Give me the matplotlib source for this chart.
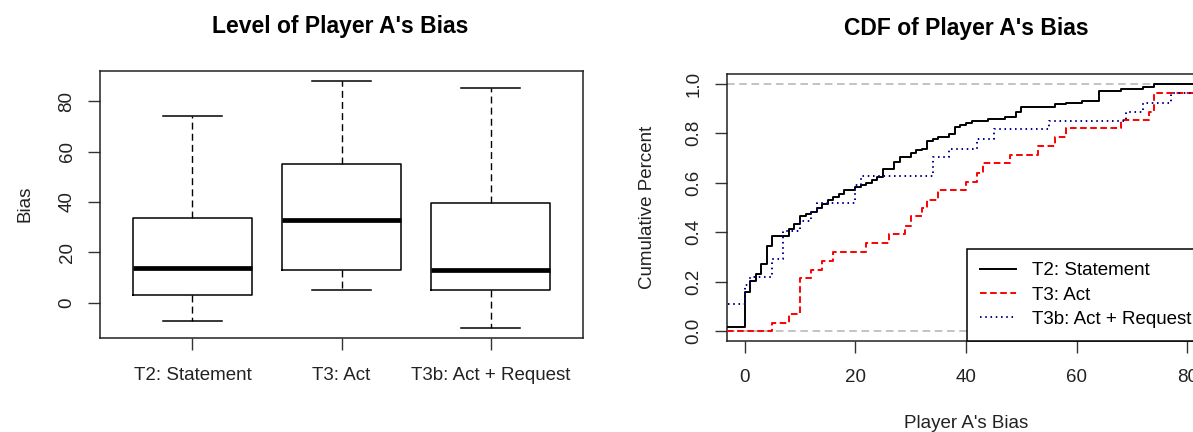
import numpy as np
import matplotlib
matplotlib.use('Agg')
import matplotlib.pyplot as plt

plt.rcParams['font.family'] = ['Liberation Sans', 'DejaVu Sans']

# ---------------- data ----------------
treatments = ['T2: Statement', 'T3: Act', 'T3b: Act + Request']
box_whislo = [-7, 5, -10]
box_q1 = [3, 13, 5]
box_med = [14, 33, 13]
box_q3 = [33.5, 55, 39.5]
box_whishi = [74, 88, 85]

t2_x = [-7, 0, 1, 2, 3, 4, 5, 8, 9, 10, 11, 12, 13, 14, 15, 16, 17, 18, 20, 21,
        22, 23, 24, 25, 27, 28, 30, 31, 32, 33, 34, 35, 37, 38, 39, 40, 41, 44,
        47, 49, 50, 56, 58, 61, 64, 68, 72, 74]
t2_cdf = [0.016, 0.158, 0.203, 0.231, 0.270, 0.343, 0.386, 0.415, 0.435, 0.465,
          0.472, 0.480, 0.499, 0.516, 0.530, 0.541, 0.553, 0.570, 0.581, 0.591,
          0.600, 0.611, 0.624, 0.654, 0.683, 0.703, 0.719, 0.732, 0.738, 0.769,
          0.778, 0.786, 0.797, 0.827, 0.834, 0.841, 0.850, 0.858, 0.868, 0.888,
          0.908, 0.918, 0.924, 0.932, 0.972, 0.980, 0.989, 1.0]

t3_x = [5, 8, 10, 12, 14, 16, 22, 26, 29, 30, 32, 33, 35, 40, 42, 43, 48, 53,
        56, 58, 68, 73, 74, 88]
t3_cdf = [0.034, 0.068, 0.215, 0.249, 0.282, 0.318, 0.357, 0.392, 0.427, 0.464,
          0.499, 0.532, 0.572, 0.604, 0.640, 0.678, 0.712, 0.747, 0.786, 0.820,
          0.854, 0.888, 0.962, 1.0]

t3b_x = [-10, 0, 1, 5, 7, 10, 12, 13, 20, 21, 34, 37, 42, 45, 55, 69, 72, 77, 85]
t3b_cdf = [0.108, 0.185, 0.219, 0.293, 0.405, 0.446, 0.482, 0.519, 0.591, 0.627,
           0.703, 0.738, 0.776, 0.816, 0.851, 0.888, 0.924, 0.962, 1.0]

cdf_xticks = [0, 20, 40, 60, 80]
cdf_yticks = [0.0, 0.2, 0.4, 0.6, 0.8, 1.0]
box_yticks = [0, 20, 40, 60, 80]

# ---------------- figure ----------------
W, H = 1193, 432
fig = plt.figure(figsize=(W / 100, H / 100), dpi=100)
fig.patch.set_facecolor('white')

FS = 13.5
TFS = 16.5


def px_axes(left, top, right, bottom):
    return [left / W, 1 - bottom / H, (right - left) / W, (bottom - top) / H]


# ---------- left: box plot ----------
ax1 = fig.add_axes(px_axes(100, 71, 583, 338))
stats = []
for i in range(3):
    stats.append(dict(whislo=box_whislo[i], q1=box_q1[i], med=box_med[i],
                      q3=box_q3[i], whishi=box_whishi[i], fliers=[]))
positions = [1, 2, 3]
ax1.bxp(stats, positions=positions, widths=0.8, showfliers=False,
        boxprops=dict(color='black', linewidth=1.1),
        medianprops=dict(color='black', linewidth=3.4, solid_capstyle='butt'),
        whiskerprops=dict(color='black', linewidth=1.0, linestyle=(0, (5, 3))),
        capprops=dict(color='black', linewidth=1.1),
        capwidths=0.4)
xa, xb = positions[0] - 0.5, positions[-1] + 0.5
xe = 0.04 * (xb - xa)
ax1.set_xlim(xa - xe, xb + xe)
ymin = min(box_whislo); ymax = max(box_whishi)
ext = 0.04 * (ymax - ymin)
ax1.set_ylim(ymin - ext, ymax + ext)
ax1.set_xticks(positions)
ax1.set_xticklabels(treatments, fontsize=FS)
ax1.set_yticks(box_yticks)
ax1.set_yticklabels([str(v) for v in box_yticks], fontsize=FS, rotation=90,
                    va='center')
ax1.tick_params(axis='both', direction='out', length=8.6, width=1.0,
                color='#333333', labelcolor='#222222')
ax1.tick_params(axis='x', pad=12.0)
ax1.tick_params(axis='y', pad=9.0)
for s in ax1.spines.values():
    s.set_linewidth(1.1)
    s.set_color('#222222')
fig.text(25 / W, 1 - 204 / H, 'Bias', rotation=90, ha='center', va='center',
         fontsize=FS, color='#222222')
fig.text(340 / W, 1 - 26 / H, "Level of Player A's Bias", ha='center',
         va='center', fontsize=TFS, fontweight='bold')

# ---------- right: CDF ----------
x0, x1 = 0, 80
xext = 0.04 * (x1 - x0)
ax2 = fig.add_axes(px_axes(727, 74, 1205, 341))
ax2.set_xlim(x0 - xext, x1 + xext)
ax2.set_ylim(-0.04, 1.04)
ax2.axhline(0, color='#b3b3b3', linewidth=1.1, linestyle=(0, (5, 3)), zorder=1)
ax2.axhline(1, color='#b3b3b3', linewidth=1.1, linestyle=(0, (5, 3)), zorder=1)


def ecdf_line(xs, ys, **kw):
    xx = np.concatenate([[-1000.0], np.asarray(xs, float), [1000.0]])
    yy = np.concatenate([[0.0], np.asarray(ys, float), [ys[-1]]])
    return ax2.step(xx, yy, where='post', **kw)[0]


l1 = ecdf_line(t2_x, t2_cdf, color='black', linewidth=1.4,
               label='T2: Statement', zorder=3)
l2 = ecdf_line(t3_x, t3_cdf, color='red', linewidth=1.4,
               linestyle=(0, (3.4, 1.8)), label='T3: Act', zorder=3)
l3 = ecdf_line(t3b_x, t3b_cdf, color='darkblue', linewidth=1.4,
               linestyle=(0, (0.8, 1.9)), label='T3b: Act + Request', zorder=3)

ax2.set_xticks(cdf_xticks)
ax2.set_xticklabels([str(v) for v in cdf_xticks], fontsize=FS)
ax2.set_yticks(cdf_yticks)
ax2.set_yticklabels(['%.1f' % v for v in cdf_yticks], fontsize=FS,
                    rotation=90, va='center')
ax2.tick_params(axis='both', direction='out', length=8.6, width=1.0,
                color='#333333', labelcolor='#222222')
ax2.tick_params(axis='x', pad=11.5)
ax2.tick_params(axis='y', pad=9.0)
for s in ax2.spines.values():
    s.set_linewidth(1.1)
    s.set_color('#222222')

leg = ax2.legend(handles=[l1, l2, l3], loc='lower right', bbox_to_anchor=(1, 0),
                 borderaxespad=0, fontsize=FS, frameon=True, fancybox=False,
                 edgecolor='black', framealpha=1, borderpad=0.7,
                 labelspacing=0.38, handlelength=1.9, handletextpad=0.9)
leg.get_frame().set_linewidth(1.1)
leg.set_zorder(5)

fig.text(647 / W, 1 - 207 / H, 'Cumulative Percent', rotation=90, ha='center',
         va='center', fontsize=FS, color='#222222')
fig.text(966 / W, 1 - 423 / H, "Player A's Bias", ha='center', va='center',
         fontsize=FS, color='#222222')
fig.text(966 / W, 1 - 29 / H, "CDF of Player A's Bias", ha='center',
         va='center', fontsize=TFS, fontweight='bold')

fig.savefig('out.png', dpi=100, facecolor='white')
